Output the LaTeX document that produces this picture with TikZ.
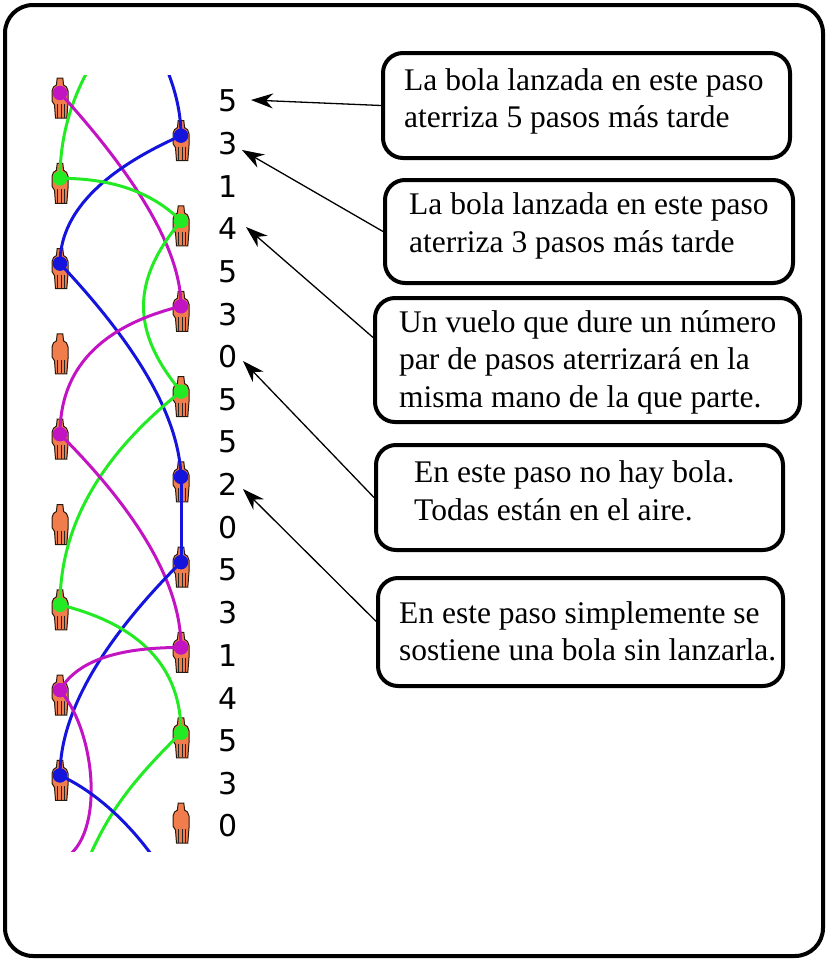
\documentclass[tikz,border=0pt]{standalone}
\usepackage{fontspec}
\setmainfont{Liberation Serif}
\newfontfamily\numfont{DejaVu Sans}
\usetikzlibrary{arrows.meta,calc}
\definecolor{ballM}{RGB}{195,20,195}
\definecolor{ballG}{RGB}{35,235,35}
\definecolor{ballB}{RGB}{20,20,220}
\definecolor{handfill}{RGB}{240,125,75}
\tikzset{
  x=1pt,y=-1pt,
  hand/.pic={
    \filldraw[fill=handfill,draw=black!80!brown,line width=1]
      (-2.8,-15) -- (2.8,-15) -- (3.6,-8) -- (6.5,-6) -- (8,-2) -- (8,10)
      -- (6.8,25) -- (-4.5,25) -- (-5.5,12) -- (-8,8) -- (-8,-2) -- (-6.5,-6)
      -- (-3.6,-8) -- cycle;
    \draw[line width=1.3,black!85] (-2.2,11)--(-2.2,24.5) (1.2,11)--(1.2,24.5) (4.5,11)--(4.5,24.5);
  },
  path/.style={line width=3},
  ball/.style={circle,inner sep=0pt,minimum size=14.5},
  num/.style={font=\numfont\fontsize{30}{30}\selectfont},
  box/.style={draw,line width=4,rounded corners=20,inner sep=0pt},
  txt/.style={anchor=west,align=left,inner sep=0pt,
    font=\fontsize{31.5}{37.5}\selectfont},
  note/.style={line width=1.3,-{Stealth[length=22,width=15,inset=7]}}
}
\begin{document}
\begin{tikzpicture}
\useasboundingbox (0,0) rectangle (828,961);
\draw[line width=4,rounded corners=28] (5,5) rectangle (823,956);
% juggling positions (ball centres)
\foreach \k in {-4,...,20}{
  \pgfmathsetmacro\xx{ifthenelse(mod(\k+4,2)==0,60,181)}
  \coordinate (S\k) at (\xx,93+42.65*\k);
}
% hands
\foreach \k in {0,...,17}{ \pic at (S\k) {hand}; }
% throws
\begin{scope}
\clip (30,75) rectangle (215,851);
\draw[path,ballG] (S-3) .. controls +(-81,64) and +(0,-78) .. (S2);
\draw[path,ballB] (S-4) .. controls +(81,81) and +(0,-61) .. (S1);
\draw[path,ballM] (S0) .. controls +(81,89) and +(0,-53) .. (S5);
\draw[path,ballB] (S1) .. controls +(-81,36) and +(0,-49) .. (S4);
\draw[path,ballG] (S2) .. controls +(52,0) and +(-29,-29) .. (S3);
\draw[path,ballG] (S3) .. controls +(-50,60) and +(-50,-60) .. (S7);
\draw[path,ballB] (S4) .. controls +(79,84) and +(-2,-59) .. (S9);
\draw[path,ballM] (S5) .. controls +(-81,20) and +(0,-65) .. (S8);
\draw[path,ballG] (S7) .. controls +(-81,64) and +(0,-78) .. (S12);
\draw[path,ballM] (S8) .. controls +(81,81) and +(0,-61) .. (S13);
\draw[path,ballB] (S9) -- (S11);
\draw[path,ballB] (S11) .. controls +(-81,81) and +(0,-61) .. (S16);
\draw[path,ballG] (S12) .. controls +(81,20) and +(0,-65) .. (S15);
\draw[path,ballM] (S13) .. controls +(-64,0) and +(17,-29) .. (S14);
\draw[path,ballM] (S14) .. controls +(38,45) and +(45,-18) .. (S18);
\draw[path,ballG] (S15) .. controls +(-60,60) and +(30,-116) .. (S20);
\draw[path,ballB] (S16) .. controls +(42,19) and +(-31,-63) .. (S19);
\end{scope}
% balls
\foreach \k/\c in {0/ballM,1/ballB,2/ballG,3/ballG,4/ballB,5/ballM,7/ballG,8/ballM,
  9/ballB,11/ballB,12/ballG,13/ballM,14/ballM,15/ballG,16/ballB}{
  \node[ball,fill=\c] (ball\k) at (S\k) {};
}
% siteswap numbers
\foreach \n [count=\i from 0] in {5,3,1,4,5,3,0,5,5,2,0,5,3,1,4,5,3,0}{
  \node[num] (n\i) at (228,101+42.65*\i) {\n};
}
% notes
\node[box,minimum width=407,minimum height=105] (b1) at (586.5,105.5) {};
\node[box,minimum width=408,minimum height=103] (b2) at (589,231.5) {};
\node[box,minimum width=425,minimum height=124] (b3) at (587.5,360) {};
\node[box,minimum width=407,minimum height=105] (b4) at (579.5,497.5) {};
\node[box,minimum width=405,minimum height=108] (b5) at (580.5,632) {};
\node[txt] (x1) at (404,101.5) {La bola lanzada en este paso\\aterriza 5 pasos más tarde};
\node[txt] (x2) at (409,226) {La bola lanzada en este paso\\aterriza 3 pasos más tarde};
\node[txt] (x3) at (399,362) {Un vuelo que dure un número\\par de pasos aterrizará en la\\misma mano de la que parte.};
\node[txt] (x4) at (414,491) {En este paso no hay bola.\\Todas están en el aire.};
\node[txt] (x5) at (399,631.5) {En este paso simplemente se\\sostiene una bola sin lanzarla.};
\coordinate (t1) at (251,100);
\coordinate (t2) at (242,150);
\coordinate (t3) at (246,227);
\coordinate (t4) at (243,361);
\coordinate (t5) at (243,489);
\draw[note] (b1.west) -- (t1);
\draw[note] (b2.west) -- (t2);
\draw[note] (b3.174) -- (t3);
\draw[note] (b4.west) -- (t4);
\draw[note] (b5.177) -- (t5);
\end{tikzpicture}
\end{document}
